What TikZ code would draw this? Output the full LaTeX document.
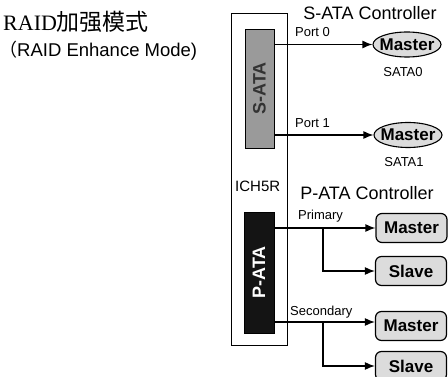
\documentclass[tikz,border=0pt]{standalone}
\usepackage{fontspec}
\setmainfont{Liberation Sans}
\newfontfamily\cjkf{Noto Sans CJK SC}
\newfontfamily\seriff{Liberation Serif}
\usetikzlibrary{arrows.meta,shapes.geometric}
\definecolor{sgray}{HTML}{9A9A9A}
\definecolor{lgray}{HTML}{DCDCDC}
\tikzset{
 lbl/.style={inner sep=0pt, font=\fontsize{13}{13}\selectfont},
 ctl/.style={inner sep=0pt, font=\fontsize{18}{18}\selectfont},
 drv/.style={draw, line width=1.2pt, fill=lgray, rounded corners=6pt, minimum width=71pt, minimum height=29pt, inner sep=0pt, font=\bfseries\fontsize{17}{17}\selectfont},
 sdrv/.style={draw, line width=1.1pt, fill=lgray, ellipse, minimum width=68pt, minimum height=25pt, inner sep=0pt, font=\bfseries\fontsize{17}{17}\selectfont},
 chip/.style={draw, line width=0.9pt, rotate=90, inner sep=0pt, font=\bfseries\fontsize{18}{18}\selectfont},
 conn/.style={line width=1.3pt, -{Latex[length=10pt,width=8pt]}},
}
\begin{document}
\begin{tikzpicture}[x=1pt,y=-1pt]
\useasboundingbox (0,0) rectangle (448,377);
% titles
\node[anchor=base west, inner sep=0pt] (title) at (3,31) {\seriff\fontsize{22}{22}\selectfont RAID\cjkf\fontsize{23}{23}\selectfont 加强模式};
\node[anchor=base west, inner sep=0pt] (sub) at (-1,57) {\cjkf\fontsize{18}{18}\selectfont （\rmfamily\fontsize{18.5}{18.5}\selectfont RAID Enhance Mode)};
% chip
\node[draw, line width=0.9pt, minimum width=56pt, minimum height=332pt, inner sep=0pt] (ich) at (259,179) {};
\node[chip, fill=sgray, text=black!80, minimum width=119pt, minimum height=29pt] (sata) at (259.5,88.5) {S-ATA};
\node[chip, fill=black!92, text=white, minimum width=121pt, minimum height=30pt] (pata) at (259,272.5) {P-ATA};
\node[anchor=base west, inner sep=0pt, font=\fontsize{15}{15}\selectfont] (ichl) at (235,192) {ICH5R};
% controller titles
\node[ctl, anchor=base] (sc) at (370,20) {S-ATA Controller};
\node[ctl, anchor=base] (pc) at (367,200) {P-ATA Controller};
% SATA drives
\node[sdrv] (e1) at (407,44.5) {\makebox[0pt]{Master}};
\node[sdrv] (e2) at (408,135) {\makebox[0pt]{Master}};
\node[lbl] (s0) at (403,72) {SATA0};
\node[lbl] (s1) at (404,162) {SATA1};
\node[lbl, anchor=base west] (lp0) at (295,37) {Port 0};
\node[lbl, anchor=base west] (lp1) at (295,128) {Port 1};
% PATA drives
\node[drv] (m1) at (411.5,228) {Master};
\node[drv] (sl1) at (411,271) {Slave};
\node[drv] (m2) at (411,326) {Master};
\node[drv] (sl2) at (411,366) {Slave};
\node[lbl, anchor=base west] (lpr) at (298,220) {Primary};
\node[lbl, anchor=base west] (lse) at (290,316) {Secondary};
% connectors
\draw[conn] (e1.west -| sata.south) -- (e1.west);
\draw[conn] (e2.west -| sata.south) -- (e2.west);
\draw[conn] (m1.west -| pata.south) -- (m1.west);
\coordinate (b1) at (323,228);
\draw[conn] (b1) |- (sl1.west);
\coordinate (secS) at (274,322);
\draw[conn] (secS) -- (secS -| m2.west);
\coordinate (b2) at (323,322);
\draw[conn] (b2) |- (sl2.west);
\end{tikzpicture}
\end{document}
